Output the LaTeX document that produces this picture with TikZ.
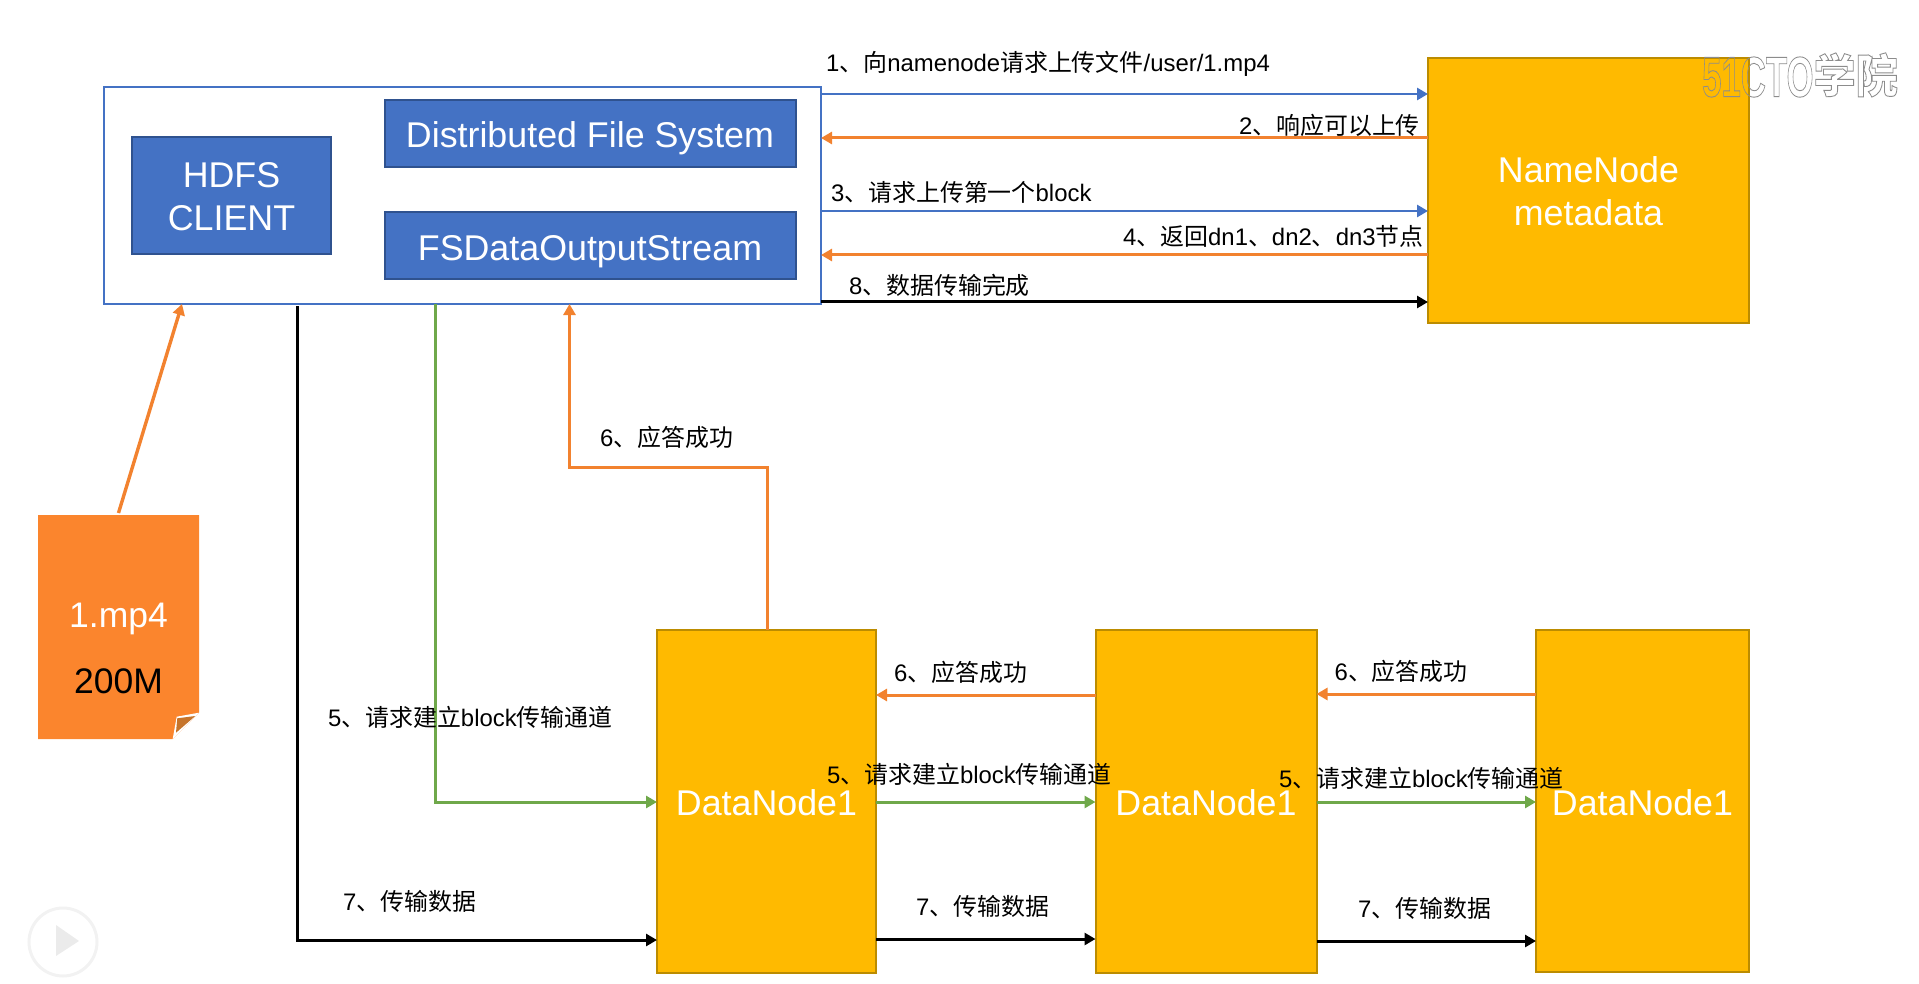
\documentclass[tikz,border=0pt]{standalone}
\usepackage{fontspec}
\setmainfont{Liberation Sans}
\newfontfamily\cjk{Noto Sans CJK SC}
\newcommand{\zh}[1]{{\cjk #1}}
\newcommand{\lowfix}{\rule{0pt}{28pt}}
\usetikzlibrary{arrows.meta,positioning}
\definecolor{bluefill}{HTML}{4472C4}
\definecolor{blueedge}{HTML}{2F528F}
\definecolor{goldfill}{HTML}{FFBA00}
\definecolor{goldedge}{HTML}{BC8C00}
\definecolor{filefill}{HTML}{FB852D}
\definecolor{foldfill}{HTML}{C6742B}
\definecolor{reply}{HTML}{F2822F}
\definecolor{pipe}{HTML}{6FA84A}
\tikzset{%
  >={Triangle[length=11pt,width=12pt]},
  bigtext/.style={font=\fontsize{35.8}{43}\selectfont,align=center},
  client/.style={rectangle,draw=bluefill,line width=2pt,outer sep=0pt,minimum height=217pt,minimum width=717pt},
  block/.style={rectangle,draw=blueedge,line width=2pt,fill=bluefill,text=white,outer sep=0pt,bigtext},
  server/.style={rectangle,draw=goldedge,line width=2pt,fill=goldfill,text=white,outer sep=0pt,inner sep=0pt,bigtext},
  filetext/.style={inner sep=0pt,font=\fontsize{35.5}{66}\selectfont,align=center},
  lbl/.style={inner sep=0pt,anchor=west,xshift=-1pt,text height=22.4pt,text depth=5pt,font=\fontsize{23.9}{28}\selectfont},
  ask/.style={draw=bluefill,line width=2.8pt,->},
  reply/.style={draw=reply,line width=3pt,->},
  pipe/.style={draw=pipe,line width=3pt,->},
  data/.style={draw=black,line width=3pt,->}
}
\begin{document}
\begin{tikzpicture}[x=1pt,y=-1pt]
  \useasboundingbox (0,0) rectangle (1919,984);
  % client side
  \node[client] (client) at (462.5,195.5) {};
  \node[block,minimum width=199pt,minimum height=117pt] (hdfs) at (231.5,195.5) {\lowfix HDFS\\CLIENT};
  \node[block,minimum width=411pt,minimum height=67pt,text height=28pt,text depth=0pt] (dfs) at (590,133.5) {Distributed File System};
  \node[block,minimum width=411pt,minimum height=67pt,text height=31pt,text depth=0pt] (fsdos) at (590,245.5) {FSDataOutputStream};
  % servers
  \node[server,minimum width=321pt,minimum height=265pt] (namenode) at (1588.5,190.5) {\lowfix NameNode\\metadata};
  \node[server,minimum width=219pt,minimum height=343pt,text height=28pt,text depth=0pt] (dn1) at (766.5,801.5) {DataNode1};
  \node[server,minimum width=221pt,minimum height=343pt,text height=28pt,text depth=0pt] (dn2) at (1206,801.5) {DataNode1};
  \node[server,minimum width=213pt,minimum height=342pt,text height=28pt,text depth=0pt] (dn3) at (1642.5,801) {DataNode1};
  % the file
  \fill[filefill] (38,515) -- (199,515) -- (199,712.7) -- (172.7,739) -- (38,739) -- cycle;
  \fill[white] (172.7,739) -- (176.7,716.7) -- (199,712.7) -- cycle;
  \fill[foldfill] (177.3,718.3) -- (195.3,716) -- (176,732.7) -- cycle;
  \node[filetext,minimum width=161pt,minimum height=224pt] (file) at (118.5,648) {\textcolor{white}{1.mp4}\\200M};
  % client <-> namenode
  \draw[ask] (client.east |- 0,94) -- (namenode.west |- 0,94);
  \draw[reply] (namenode.west |- 0,138) -- (client.east |- 0,138);
  \draw[ask] (client.east |- 0,211) -- (namenode.west |- 0,211);
  \draw[reply] (namenode.west |- 0,255) -- (client.east |- 0,255);
  \draw[data] (client.east |- 0,302) -- (namenode.west |- 0,302);
  % file and client
  \draw[reply,line width=3.4pt] (118.5,513) -- (client.south -| 182,0);
  % client -> datanodes
  \draw[data,shorten <=2pt] (client.south -| 297.3,0) -- (297.3,940) -- (dn1.west |- 0,940);
  \draw[pipe] (client.south -| 435.5,0) -- (435.5,802) -- (dn1.west |- 0,802);
  \draw[reply] (dn1.north -| 767,0) -- ++(0,-163) -| (client.south -| 569.5,0);
  % pipeline
  \draw[pipe] (dn1.east |- 0,802) -- (dn2.west |- 0,802);
  \draw[pipe] (dn2.east |- 0,802) -- (dn3.west |- 0,802);
  \draw[reply] (dn2.west |- 0,695) -- (dn1.east |- 0,695);
  \draw[reply] (dn3.west |- 0,694) -- (dn2.east |- 0,694);
  \draw[data] (dn1.east |- 0,939) -- (dn2.west |- 0,939);
  \draw[data] (dn2.east |- 0,941) -- (dn3.west |- 0,941);
  % labels
  \node[lbl] (req1) at (827,63) {1\zh{、向}namenode\zh{请求上传文件}/user/1.mp4};
  \node[lbl] (req2) at (1240,126) {2\zh{、响应可以上传}};
  \node[lbl] (req3) at (832,193) {3\zh{、请求上传第一个}block};
  \node[lbl] (req4) at (1124,237) {4\zh{、返回}dn1\zh{、}dn2\zh{、}dn3\zh{节点}};
  \node[lbl] (req8) at (850,286) {8\zh{、数据传输完成}};
  \node[lbl] (ack1) at (601,438) {6\zh{、应答成功}};
  \node[lbl] (ack2) at (895,673) {6\zh{、应答成功}};
  \node[lbl] (ack3) at (1335.5,672) {6\zh{、应答成功}};
  \node[lbl] (pipe1) at (329,718) {5\zh{、请求建立}block\zh{传输通道}};
  \node[lbl] (pipe2) at (828,775) {5\zh{、请求建立}block\zh{传输通道}};
  \node[lbl] (pipe3) at (1280,779) {5\zh{、请求建立}block\zh{传输通道}};
  \node[lbl] (send1) at (344,902) {7\zh{、传输数据}};
  \node[lbl] (send2) at (917,907) {7\zh{、传输数据}};
  \node[lbl] (send3) at (1359,909) {7\zh{、传输数据}};
  % player overlay
  \draw[black!5,line width=3pt] (63,942) circle (34pt);
  \fill[black!8] (56,925) -- (79,941) -- (56,956) -- cycle;
  \node[inner sep=0pt,anchor=west,text=black!45,xscale=.61,transform shape,font=\fontsize{57}{57}\bfseries\selectfont] (mark) at (1702,75)
    {\special{pdf:code 1 Tr 0.9 w}51CTO\raisebox{4pt}{\scalebox{1.5}[1]{\cjk\fontsize{46}{46}\selectfont 学院}}\special{pdf:code 0 Tr}};
\end{tikzpicture}
\end{document}
